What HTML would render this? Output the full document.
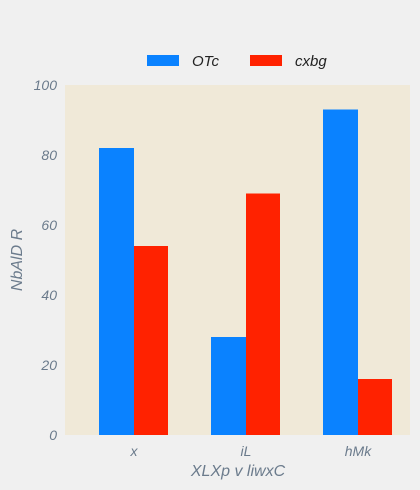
<!DOCTYPE html>
<html><head><meta charset="utf-8"><style>
body{margin:0;background:#f0f0f0;}
svg{display:block;font-family:"Liberation Sans",sans-serif;font-style:italic;}
</style></head><body>
<svg id="chart" width="420" height="490">
<rect width="420" height="490" fill="#f0f0f0"/>
<rect x="65" y="85" width="345" height="350" fill="#f0e9d8"/>
<g>
<rect x="147" y="55" width="32" height="11" fill="#0a82ff"/>
<text x="192" y="66" font-size="15" fill="#222">OTc</text>
<rect x="250" y="55" width="32" height="11" fill="#ff2200"/>
<text x="295" y="66" font-size="15" fill="#222">cxbg</text>
</g>
<g id="yticks"></g><g id="bars"></g><g id="xticks"></g>
<text x="238" y="476" font-size="16" fill="#6b7b8c" text-anchor="middle">XLXp v  liwxC</text>
<text transform="translate(22,260) rotate(-90)" font-size="16" fill="#6b7b8c" text-anchor="middle">NbAlD R</text>
</svg>
<script>
const categories=["x","iL","hMk"];
const otcValues=[82,28,93];
const cxbgValues=[54,69,16];
const yTicks=[0,20,40,60,80,100];
const NS="http://www.w3.org/2000/svg";
const y0=435,plotH=350,yMax=100;
const firstCenter=134,band=112,barW=35;
function yScale(v){return y0-v/yMax*plotH;}
function xCenter(i){return firstCenter+band*i;}
function mk(tag,attrs,parent){const e=document.createElementNS(NS,tag);for(const k in attrs)e.setAttribute(k,attrs[k]);parent.appendChild(e);return e;}
const yg=document.getElementById('yticks'),bg=document.getElementById('bars'),xg=document.getElementById('xticks');
yTicks.forEach(t=>{
 const e=mk('text',{x:57,y:yScale(t)+5,'font-size':14,fill:'#6b7b8c','text-anchor':'end'},yg);
 
 
 e.textContent=t;
});
categories.forEach((c,i)=>{
 const cx=xCenter(i);
 const b1=mk('rect',{x:cx-barW,y:yScale(otcValues[i]),width:barW,height:y0-yScale(otcValues[i]),fill:'#0a82ff'},bg);
 
 
 const b2=mk('rect',{x:cx,y:yScale(cxbgValues[i]),width:barW-1,height:y0-yScale(cxbgValues[i]),fill:'#ff2200'},bg);
 
 
 const t=mk('text',{x:cx,y:456,'font-size':14,fill:'#6b7b8c','text-anchor':'middle'},xg);
 
 
 t.textContent=c;
});
</script>
</body></html>
